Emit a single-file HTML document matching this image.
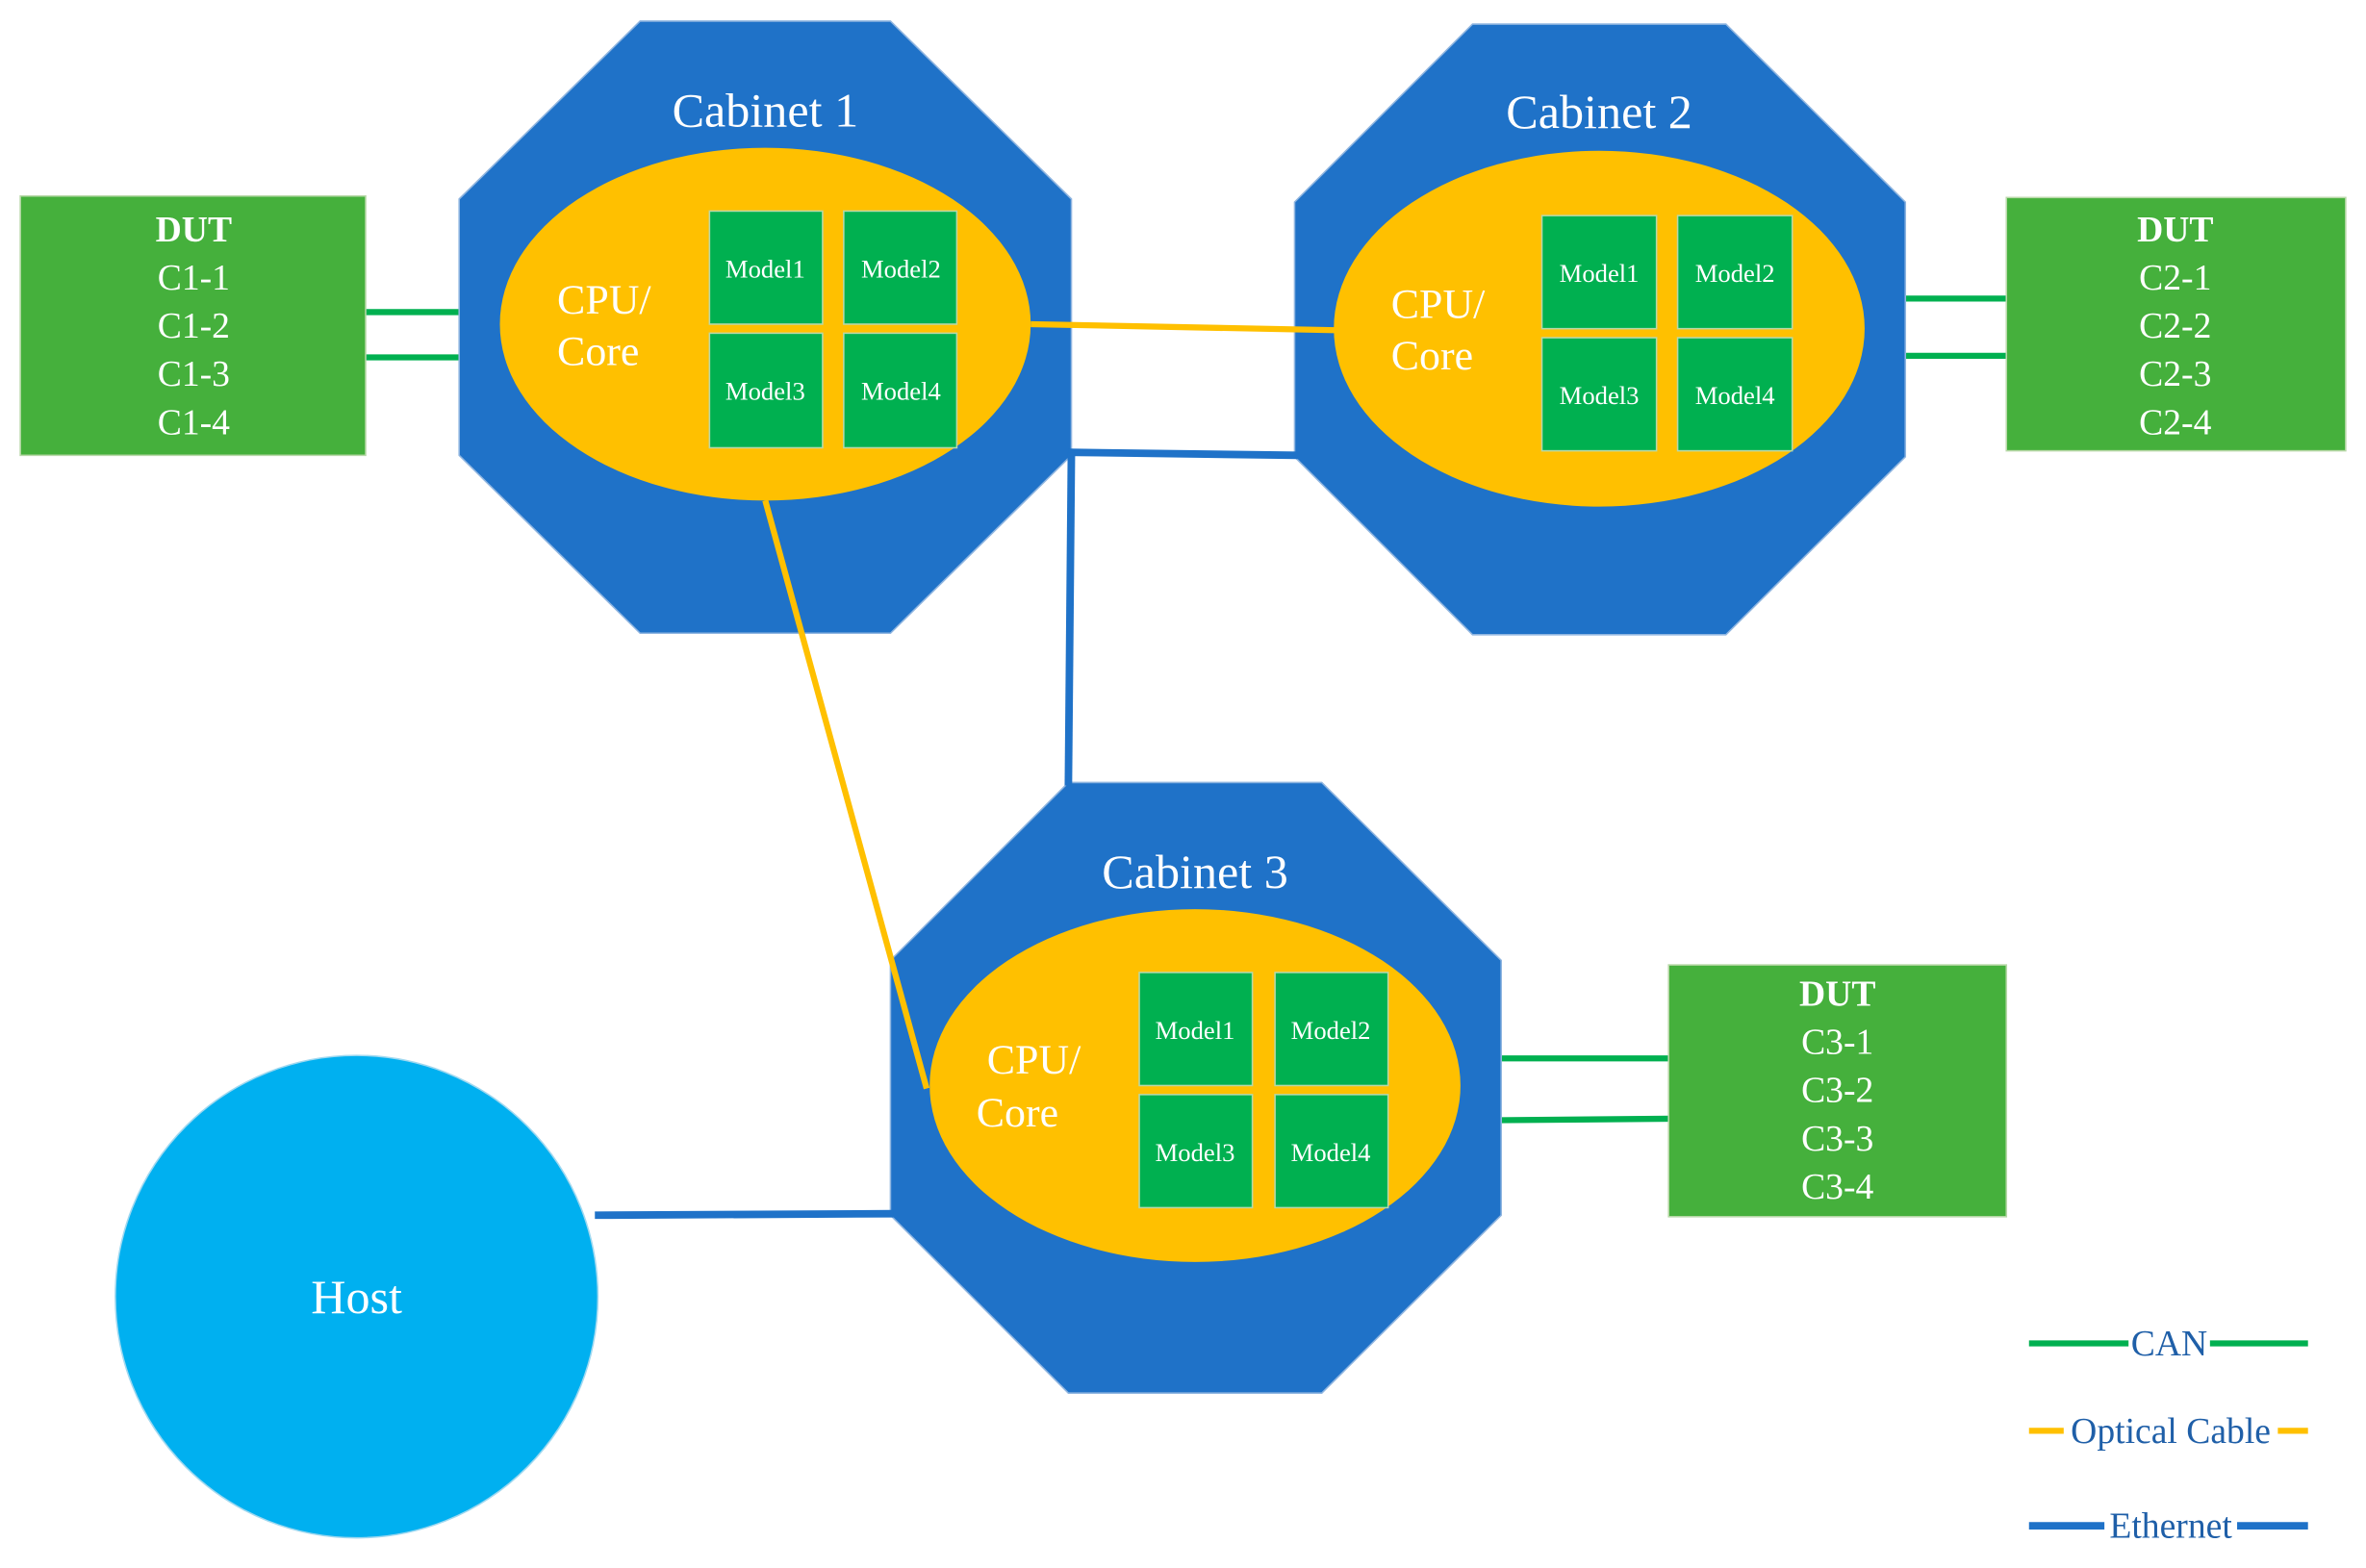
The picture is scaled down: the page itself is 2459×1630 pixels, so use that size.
<!DOCTYPE html>
<html><head><meta charset="utf-8"><style>
html,body{margin:0;padding:0;background:#fff;}
svg{display:block;}
text{font-family:"Liberation Serif",serif;}
</style></head><body>
<svg width="2459" height="1630" viewBox="0 0 1568 1040" xmlns="http://www.w3.org/2000/svg">
<rect width="1568" height="1040" fill="#fff"/>
<g stroke="#00b050" stroke-width="4">
<line x1="240" y1="207" x2="306" y2="207"/><line x1="240" y1="237" x2="306" y2="237"/>
<line x1="1261" y1="198" x2="1332" y2="198"/><line x1="1261" y1="236" x2="1332" y2="236"/>
<line x1="993" y1="702" x2="1108" y2="702"/><line x1="993" y1="743" x2="1108" y2="742"/>
</g>
<g fill="#1f72c8" stroke="#8fb5e0" stroke-width="1">
<polygon points="424,14 590,14 710,132 710,302 590,420 424,420 304,302 304,132"/>
<polygon points="976,16 1144,16 1263,134 1263,303 1144,421 976,421 858,303 858,134"/>
<polygon points="708,519 876,519 995,637 995,806 876,924 708,924 590,806 590,637"/>
</g>
<g stroke="#1f72c8" stroke-width="5">
<line x1="708" y1="300" x2="860" y2="302"/>
<line x1="710" y1="300" x2="708" y2="521"/>
<line x1="394" y1="806" x2="592" y2="805"/>
</g>
<g fill="#ffc000">
<ellipse cx="507" cy="215" rx="176" ry="117"/>
<ellipse cx="1060" cy="218" rx="176" ry="118"/>
<ellipse cx="792" cy="720" rx="176" ry="117"/>
</g>
<g stroke="#ffc000" stroke-width="4">
<line x1="683" y1="215" x2="885" y2="219"/>
<line x1="507" y1="332" x2="614" y2="722"/>
</g>
<g fill="#00b050" stroke="#b8d8a8" stroke-width="1">
<rect x="470" y="140" width="75" height="75"/><rect x="559" y="140" width="75" height="75"/>
<rect x="470" y="221" width="75" height="76"/><rect x="559" y="221" width="75" height="76"/>
<rect x="1022" y="143" width="76" height="75"/><rect x="1112" y="143" width="76" height="75"/>
<rect x="1022" y="224" width="76" height="75"/><rect x="1112" y="224" width="76" height="75"/>
<rect x="755" y="645" width="75" height="75"/><rect x="845" y="645" width="75" height="75"/>
<rect x="755" y="726" width="75" height="75"/><rect x="845" y="726" width="75" height="75"/>
</g>
<g fill="#fff" font-size="17" text-anchor="middle">
<text x="507" y="184">Model1</text><text x="597" y="184">Model2</text>
<text x="507" y="265">Model3</text><text x="597" y="265">Model4</text>
<text x="1060" y="187">Model1</text><text x="1150" y="187">Model2</text>
<text x="1060" y="268">Model3</text><text x="1150" y="268">Model4</text>
<text x="792" y="689">Model1</text><text x="882" y="689">Model2</text>
<text x="792" y="770">Model3</text><text x="882" y="770">Model4</text>
</g>
<g fill="#fff" font-size="28">
<text x="369" y="208">CPU/</text><text x="369" y="242">Core</text>
<text x="922" y="211">CPU/</text><text x="922" y="245">Core</text>
<text x="654" y="712">CPU/</text><text x="647" y="747">Core</text>
</g>
<g fill="#fff" font-size="32" text-anchor="middle">
<text x="507" y="84">Cabinet 1</text>
<text x="1060" y="85">Cabinet 2</text>
<text x="792" y="589">Cabinet 3</text>
</g>
<g fill="#45b03c" stroke="#b8d8a8" stroke-width="1">
<rect x="13" y="130" width="229" height="172"/>
<rect x="1330" y="131" width="225" height="168"/>
<rect x="1106" y="640" width="224" height="167"/>
</g>
<g fill="#fff" font-size="24" text-anchor="middle">
<text x="128" y="160" font-weight="bold">DUT</text><text x="128" y="192">C1-1</text><text x="128" y="224">C1-2</text><text x="128" y="256">C1-3</text><text x="128" y="288">C1-4</text>
<text x="1442" y="160" font-weight="bold">DUT</text><text x="1442" y="192">C2-1</text><text x="1442" y="224">C2-2</text><text x="1442" y="256">C2-3</text><text x="1442" y="288">C2-4</text>
<text x="1218" y="667" font-weight="bold">DUT</text><text x="1218" y="699">C3-1</text><text x="1218" y="731">C3-2</text><text x="1218" y="763">C3-3</text><text x="1218" y="795">C3-4</text>
</g>
<circle cx="236" cy="860" r="160" fill="#00b0f0" stroke="#9fd8f0" stroke-width="1"/>
<text x="236" y="871" fill="#fff" font-size="32" text-anchor="middle">Host</text>
<line x1="1345" y1="891" x2="1530" y2="891" stroke="#00b050" stroke-width="4"/>
<rect x="1411" y="876" width="54" height="28" fill="#fff"/>
<text x="1438" y="899" fill="#1f5fa8" font-size="24" text-anchor="middle">CAN</text>
<line x1="1345" y1="949" x2="1530" y2="949" stroke="#ffc000" stroke-width="4"/>
<rect x="1368" y="934" width="142" height="28" fill="#fff"/>
<text x="1439" y="957" fill="#1f5fa8" font-size="24" text-anchor="middle">Optical Cable</text>
<line x1="1345" y1="1012" x2="1530" y2="1012" stroke="#1f72c8" stroke-width="5"/>
<rect x="1395" y="997" width="88" height="28" fill="#fff"/>
<text x="1439" y="1020" fill="#1f5fa8" font-size="24" text-anchor="middle">Ethernet</text>
</svg>
</body></html>
